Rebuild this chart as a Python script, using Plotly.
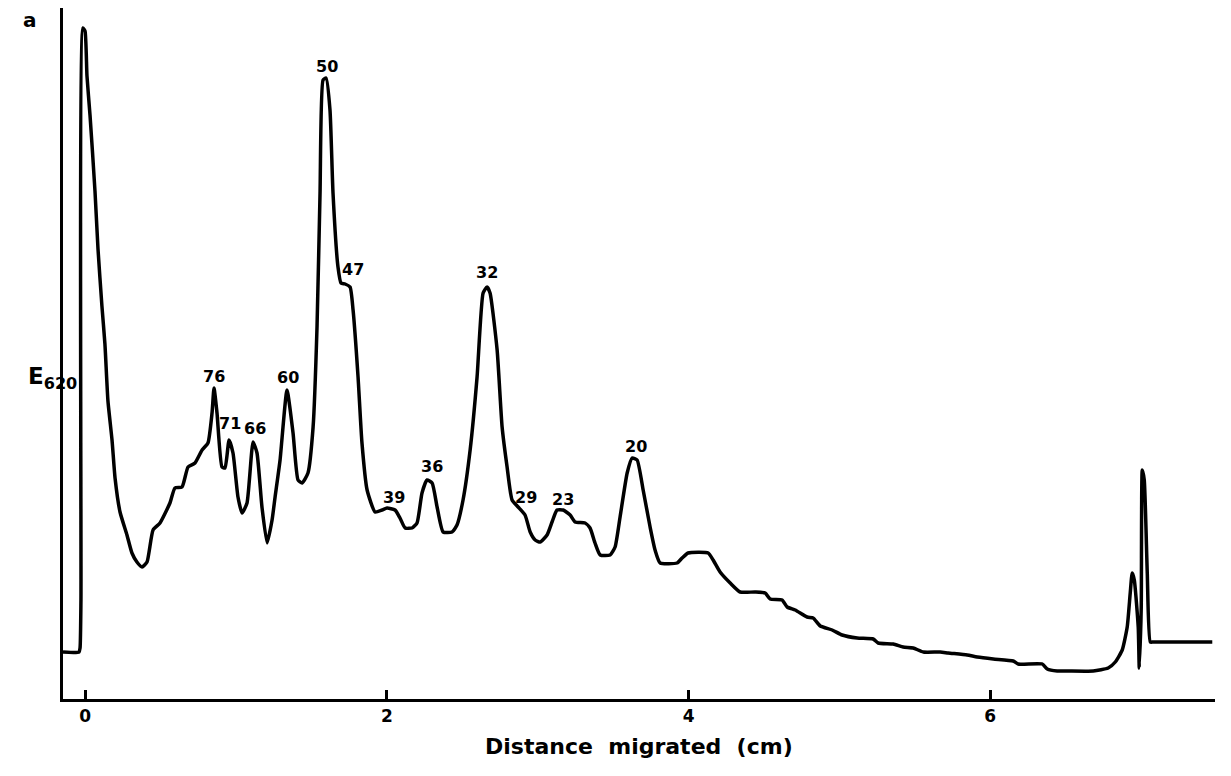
import plotly.graph_objects as go

# Densitometer trace: distance migrated (cm) vs E620 (arbitrary units)
distance_cm = [
    -0.147, -0.041, -0.034, -0.028, -0.015, -0.001, 0.012, 0.032, 0.065, 0.085,
    0.111, 0.131, 0.151, 0.178, 0.198, 0.231, 0.277, 0.310, 0.343, 0.377,
    0.410, 0.450, 0.496, 0.562, 0.595, 0.642, 0.682, 0.728, 0.775, 0.814,
    0.841, 0.854, 0.874, 0.907, 0.927, 0.954, 0.980, 1.013, 1.040, 1.073,
    1.113, 1.139, 1.172, 1.206, 1.239, 1.259, 1.292, 1.338, 1.378, 1.411,
    1.438, 1.477, 1.511, 1.537, 1.557, 1.577, 1.597, 1.623, 1.643, 1.676,
    1.696, 1.723, 1.756, 1.776, 1.809, 1.835, 1.869, 1.922, 1.968, 2.001,
    2.054, 2.087, 2.121, 2.167, 2.200, 2.233, 2.266, 2.300, 2.333, 2.373,
    2.432, 2.465, 2.505, 2.552, 2.598, 2.638, 2.664, 2.684, 2.731, 2.764,
    2.797, 2.830, 2.870, 2.916, 2.950, 2.983, 3.016, 3.062, 3.095, 3.128,
    3.168, 3.215, 3.248, 3.314, 3.347, 3.380, 3.414, 3.480, 3.513, 3.546,
    3.593, 3.626, 3.659, 3.699, 3.745, 3.778, 3.812, 3.924, 3.957, 3.997,
    4.130, 4.163, 4.209, 4.276, 4.342, 4.441, 4.508, 4.541, 4.620, 4.654,
    4.707, 4.786, 4.826, 4.873, 4.952, 5.018, 5.118, 5.224, 5.257, 5.357,
    5.423, 5.489, 5.556, 5.668, 5.721, 5.847, 5.914, 6.020, 6.152, 6.185,
    6.345, 6.378, 6.444, 6.510, 6.683, 6.782, 6.829, 6.875, 6.908, 6.928,
    6.941, 6.955, 6.981, 6.988, 7.001, 7.008, 7.021, 7.041, 7.061, 7.081,
    7.472,
]

absorbance_e620 = [
    0.47, 0.47, 0.51, 0.99, 6.71, 6.68, 6.23, 5.84, 5.08, 4.50,
    3.93, 3.55, 2.98, 2.59, 2.21, 1.87, 1.64, 1.46, 1.37, 1.32,
    1.37, 1.69, 1.76, 1.96, 2.11, 2.12, 2.32, 2.36, 2.49, 2.56,
    2.86, 3.11, 2.86, 2.32, 2.31, 2.59, 2.46, 2.02, 1.86, 1.96,
    2.57, 2.46, 1.92, 1.56, 1.79, 2.02, 2.39, 3.09, 2.66, 2.19,
    2.16, 2.26, 2.72, 3.72, 5.06, 6.19, 6.21, 5.89, 5.06, 4.32,
    4.16, 4.15, 4.12, 3.89, 3.22, 2.56, 2.09, 1.87, 1.89, 1.91,
    1.89, 1.81, 1.71, 1.71, 1.76, 2.06, 2.19, 2.16, 1.92, 1.67,
    1.67, 1.74, 1.99, 2.49, 3.22, 4.06, 4.12, 4.06, 3.49, 2.72,
    2.32, 1.99, 1.92, 1.84, 1.67, 1.59, 1.57, 1.64, 1.77, 1.89,
    1.89, 1.84, 1.77, 1.76, 1.71, 1.56, 1.44, 1.44, 1.52, 1.82,
    2.26, 2.41, 2.39, 2.09, 1.72, 1.49, 1.36, 1.36, 1.41, 1.46,
    1.46, 1.39, 1.27, 1.16, 1.07, 1.07, 1.06, 1.00, 0.99, 0.92,
    0.89, 0.82, 0.81, 0.73, 0.69, 0.64, 0.61, 0.60, 0.56, 0.55,
    0.52, 0.51, 0.47, 0.47, 0.46, 0.44, 0.42, 0.40, 0.38, 0.35,
    0.35, 0.30, 0.28, 0.28, 0.28, 0.31, 0.37, 0.49, 0.72, 1.06,
    1.26, 1.19, 0.72, 0.31, 0.92, 2.29, 2.19, 1.26, 0.57, 0.57,
    0.57,
]

# Peak labels (molecular weight, kDa) and their positions
peak_labels = ["76", "71", "66", "60", "50", "47", "39", "36", "32", "29", "23", "20"]
peak_label_x = [0.854, 0.960, 1.126, 1.345, 1.603, 1.776, 2.047, 2.300, 2.664, 2.923, 3.168, 3.653]
peak_label_y = [3.23, 2.76, 2.71, 3.22, 6.33, 4.30, 2.02, 2.33, 4.27, 2.02, 2.00, 2.53]

x_tick_vals = [0, 2, 4, 6]
x_tick_text = ["0", "2", "4", "6"]

FONT = "DejaVu Sans"
PLOT_H = 691
PLOT_W = 1152

fig = go.Figure()
fig.add_trace(go.Scatter(
    x=distance_cm, y=absorbance_e620, mode="lines",
    line=dict(color="black", width=3.5, shape="spline", smoothing=0.5),
    hoverinfo="skip", showlegend=False,
))

for t, x, y in zip(peak_labels, peak_label_x, peak_label_y):
    fig.add_annotation(x=x, y=y, xref="x", yref="y", text=f"<b>{t}</b>",
                       showarrow=False, font=dict(family=FONT, size=16, color="black"),
                       xanchor="center", yanchor="middle")

# panel letter
fig.add_annotation(x=-33 / PLOT_W, y=1 - 12 / PLOT_H, xref="paper", yref="paper",
                   text="<b>a</b>", showarrow=False,
                   font=dict(family=FONT, size=20, color="black"),
                   xanchor="center", yanchor="middle")
# y label
fig.add_annotation(x=-37 / PLOT_W, y=(691 - 370) / PLOT_H, xref="paper", yref="paper",
                   text="<b>E<sub>620</sub></b>", showarrow=False,
                   font=dict(family=FONT, size=23, color="black"),
                   xanchor="left", yanchor="middle")
# x label
fig.add_annotation(x=0.5, y=-48 / PLOT_H, xref="paper", yref="paper",
                   text="<b>Distance  migrated  (cm)</b>", showarrow=False,
                   font=dict(family=FONT, size=22, color="black"),
                   xanchor="center", yanchor="middle")

fig.update_layout(
    width=1223, height=768,
    margin=dict(l=55, r=16, t=0, b=77),
    paper_bgcolor="white", plot_bgcolor="white",
    xaxis=dict(range=[-0.147, 7.49], showgrid=False, zeroline=False,
               showline=True, linecolor="black", linewidth=3,
               ticks="inside", ticklen=9, tickwidth=3, tickcolor="black",
               tickvals=x_tick_vals, ticktext=[f"<b>{t}</b>" for t in x_tick_text],
               tickfont=dict(family=FONT, size=17, color="black")),
    yaxis=dict(range=[0, 6.91], showgrid=False, zeroline=False,
               showline=True, linecolor="black", linewidth=3,
               showticklabels=False, ticks=""),
)

fig.write_html("out.html")
